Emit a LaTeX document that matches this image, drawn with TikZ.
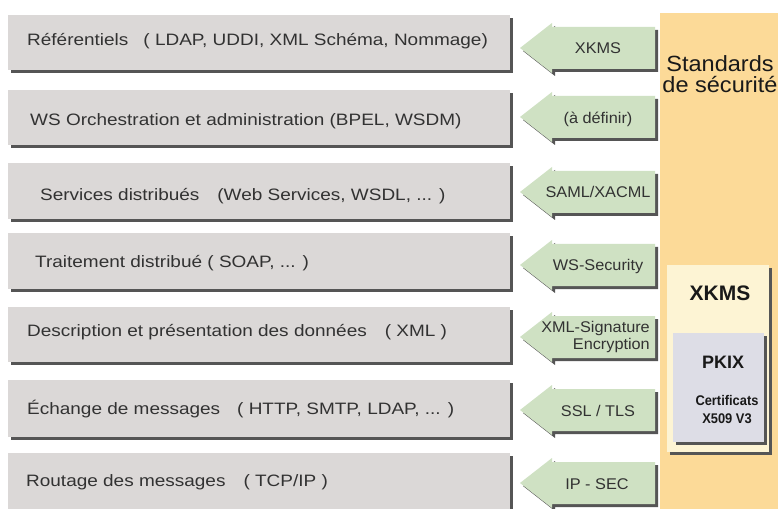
\documentclass[tikz,border=0pt]{standalone}
\usepackage{fontspec}
\setmainfont{Liberation Sans}
\newfontfamily\mainf[FakeStretch=1.15]{Liberation Sans}
\newfontfamily\arrf[FakeStretch=1.05]{Liberation Sans}
\newfontfamily\stdf[FakeStretch=1.07]{Liberation Sans}
\newfontfamily\narrowf[FakeStretch=0.92]{Liberation Sans}
\definecolor{boxgray}{RGB}{219,216,215}
\definecolor{shadowgray}{RGB}{85,85,85}
\definecolor{arrowgreen}{RGB}{207,225,195}
\definecolor{panelyellow}{RGB}{252,218,152}
\definecolor{xkmsfill}{RGB}{253,244,212}
\definecolor{pkixfill}{RGB}{221,221,230}
\definecolor{txt}{RGB}{50,50,50}
\newcommand\mklayer[2]{%
  \fill[shadowgray] (11,#1+3) rectangle (513,#2);
  \fill[boxgray] (8,#1) rectangle (510,#2-3);}
\newcommand\mkarrow[1]{%
  \fill[shadowgray,shift={(3,3)}] (552,#1-21) -- (655,#1-21) -- (655,#1+21) -- (552,#1+21) -- (552,#1+25) -- (520,#1) -- (552,#1-25) -- cycle;
  \fill[arrowgreen] (552,#1-21) -- (655,#1-21) -- (655,#1+21) -- (552,#1+21) -- (552,#1+25) -- (520,#1) -- (552,#1-25) -- cycle;}
\begin{document}
\begin{tikzpicture}[x=1bp,y=-1bp,
  maintext/.style={font=\mainf\fontsize{16.5bp}{19bp}\selectfont, text=txt, anchor=base west, inner sep=0pt},
  arrtext/.style={font=\arrf\fontsize{15.5bp}{17.5bp}\selectfont, text=txt, inner sep=0pt},
  stdtext/.style={font=\stdf\fontsize{22bp}{24bp}\selectfont, text=black!90, anchor=base, inner sep=0pt},
  boldtext/.style={font=\bfseries\fontsize{#1}{#1}\selectfont, text=black!90, anchor=base, inner sep=0pt},
  certtext/.style={font=\narrowf\bfseries\fontsize{14bp}{16bp}\selectfont, text=black!90, anchor=base, inner sep=0pt}]
\useasboundingbox (0,0) rectangle (778,509);
\clip (0,0) rectangle (778,509);
\fill[white] (0,0) rectangle (778,509);

% layers
\mklayer{15}{73}
\mklayer{90}{148}
\mklayer{163}{222}
\mklayer{233}{292}
\mklayer{307}{365}
\mklayer{380}{440}
\mklayer{453}{518}

\node[maintext] (t1) at (27,46) {Référentiels\hspace{15bp}( LDAP, UDDI, XML Schéma, Nommage)};
\node[maintext] (t2) at (30,126) {WS Orchestration et administration (BPEL, WSDM)};
\node[maintext] (t3) at (40,201) {Services distribués\hspace{18bp}(Web Services, WSDL, ... )};
\node[maintext] (t4) at (35,268) {Traitement distribué ( SOAP, ... )};
\node[maintext] (t5) at (27,336) {Description et présentation des données\hspace{18bp}( XML )};
\node[maintext] (t6) at (27,414) {Échange de messages\hspace{17bp}( HTTP, SMTP, LDAP, ... )};
\node[maintext] (t7) at (26,486) {Routage des messages\hspace{18bp}( TCP/IP )};

% arrows
\mkarrow{48}
\mkarrow{117}
\mkarrow{192}
\mkarrow{265}
\mkarrow{337}
\mkarrow{410}
\mkarrow{483}

\node[arrtext,anchor=base] (a1) at (598,54) {XKMS};
\node[arrtext,anchor=base] (a2) at (598,124) {(à définir)};
\node[arrtext,anchor=base] (a3) at (598,198) {SAML/XACML};
\node[arrtext,anchor=base] (a4) at (598,271) {WS-Security};
\node[arrtext,anchor=east,align=right] (a5) at (650,337) {XML-Signature\\Encryption};
\node[arrtext,anchor=base] (a6) at (598,416) {SSL / TLS};
\node[arrtext,anchor=base] (a7) at (597,489) {IP - SEC};

% security standards panel
\fill[panelyellow] (660,13) rectangle (780,512);
\node[stdtext] (std1) at (720,72) {Standards};
\node[stdtext] (std2) at (720,93) {de sécurité};

\fill[shadowgray] (670,268) rectangle (772,455);
\fill[xkmsfill] (667,265) rectangle (769,452);
\node[boldtext=21bp] (xk) at (720,301) {XKMS};

\fill[shadowgray] (676,336) rectangle (767,445);
\fill[pkixfill] (673,333) rectangle (764,442);
\node[boldtext=18bp] (pk) at (723,368) {PKIX};
\node[certtext] (c1) at (727,405) {Certificats};
\node[certtext] (c2) at (727,423) {X509 V3};
\end{tikzpicture}
\end{document}
